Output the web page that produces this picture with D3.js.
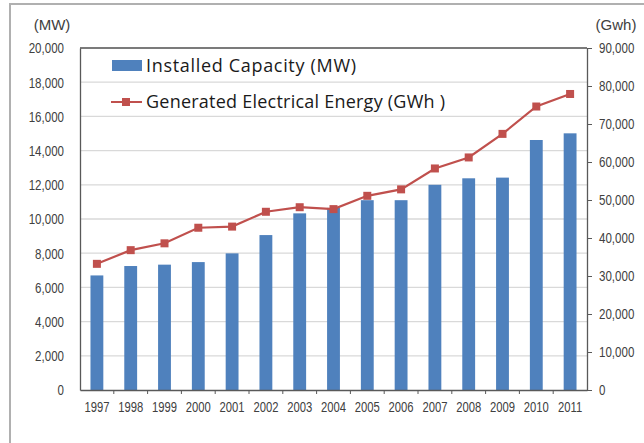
<!DOCTYPE html>
<html>
<head>
<meta charset="utf-8">
<script src="https://cdn.jsdelivr.net/npm/d3@7"></script>
<style>
  html, body { margin: 0; padding: 0; background: #fff; }
  svg { display: block; }
  .tick text { font-family: "Liberation Sans", Arial, sans-serif; font-size: 15px; fill: #404040; }
</style>
</head>
<body>
<svg width="644" height="443"></svg>
<script>
// Data
// ----
var years = ['1997', '1998', '1999', '2000', '2001', '2002', '2003', '2004',
             '2005', '2006', '2007', '2008', '2009', '2010', '2011'];
var capacity = [6700, 7250, 7330, 7480, 7990, 9060, 10330, 10650,
                11100, 11100, 12000, 12380, 12420, 14620, 15010];
var energy = [33200, 36800, 38600, 42700, 43000, 46900, 48100, 47600,
              51100, 52800, 58300, 61200, 67400, 74600, 77900];
var leftTicks = [0, 2000, 4000, 6000, 8000, 10000, 12000, 14000, 16000, 18000, 20000];
var rightTicks = [0, 10000, 20000, 30000, 40000, 50000, 60000, 70000, 80000, 90000];

var svg = d3.select('svg');
var m = {left: 80, right: 587, top: 48, bottom: 390};
var fmt = d3.format(',');

// squeeze axis labels to look like a narrow font
function narrow(sel, k) {
  sel.selectAll('.tick text').each(function () {
    var w = this.getComputedTextLength();
    d3.select(this).attr('textLength', w * k).attr('lengthAdjust', 'spacingAndGlyphs');
  });
}

// outer frame
svg.append('rect')
   .attr('x', 10).attr('y', 4)
   .attr('width', 660).attr('height', 460)
   .style('fill', 'none').style('stroke', '#b0b0b0').style('stroke-width', 2);

var x = d3.scaleBand().domain(years).range([m.left, m.right]).paddingInner(0.62).paddingOuter(0.31);
var xs = d3.scaleBand().domain(years).range([m.left, m.right]);
var yL = d3.scaleLinear().domain([0, 20000]).range([m.bottom, m.top]);
var yR = d3.scaleLinear().domain([0, 90000]).range([m.bottom, m.top]);

// gridlines
svg.append('g').selectAll('line').data(leftTicks.slice(1)).join('line')
   .attr('x1', m.left).attr('x2', m.right)
   .attr('y1', d => yL(d)).attr('y2', d => yL(d))
   .style('stroke', '#d9d9d9').style('stroke-width', 1.3);

// bars
svg.append('g').selectAll('rect').data(years).join('rect')
   .attr('x', d => x(d))
   .attr('width', x.bandwidth())
   .attr('y', (d, i) => yL(capacity[i]))
   .attr('height', (d, i) => m.bottom - yL(capacity[i]))
   .style('fill', '#4f81bd');

// left axis
var gl = svg.append('g').attr('transform', 'translate(' + m.left + ',0)')
   .call(d3.axisLeft(yL).tickValues(leftTicks).tickFormat(fmt).tickSize(0).tickPadding(16));
gl.select('.domain').style('stroke', '#595959').style('stroke-width', 1.3);
narrow(gl, 0.77);

// right axis
var gr = svg.append('g').attr('transform', 'translate(' + m.right + ',0)')
   .call(d3.axisRight(yR).tickValues(rightTicks).tickFormat(fmt).tickSizeInner(5).tickSizeOuter(0).tickPadding(7));
gr.select('.domain').style('stroke', '#595959').style('stroke-width', 1.3);
gr.selectAll('.tick line').style('stroke', '#595959');
narrow(gr, 0.77);

// top border of plot
svg.append('line')
   .attr('x1', m.left).attr('x2', m.right).attr('y1', m.top).attr('y2', m.top)
   .style('stroke', '#595959').style('stroke-width', 1.3);

// bottom axis
var gb = svg.append('g').attr('transform', 'translate(0,' + m.bottom + ')')
   .call(d3.axisBottom(xs).tickSize(0).tickPadding(11));
gb.select('.domain').style('stroke', '#595959').style('stroke-width', 1.3);
narrow(gb, 0.75);
gb.selectAll('.sep').data(years.slice(1)).join('line')
   .attr('class', 'sep')
   .attr('x1', d => xs(d)).attr('x2', d => xs(d))
   .attr('y1', 0).attr('y2', 4)
   .style('stroke', '#595959');

// energy line
var line = d3.line()
   .x((d, i) => xs(years[i]) + xs.bandwidth() / 2)
   .y(d => yR(d));
svg.append('path').datum(energy)
   .attr('d', line)
   .style('fill', 'none').style('stroke', '#c0504d').style('stroke-width', 2.2);
svg.append('g').selectAll('rect').data(energy).join('rect')
   .attr('x', (d, i) => xs(years[i]) + xs.bandwidth() / 2 - 4)
   .attr('y', d => yR(d) - 4)
   .attr('width', 8).attr('height', 8)
   .style('fill', '#c0504d');

// unit labels
svg.append('text').attr('x', 52).attr('y', 30).attr('text-anchor', 'middle')
   .text('(MW)')
   .style('font-family', '"Liberation Sans", Arial, sans-serif').style('font-size', '15px').style('fill', '#404040');
svg.append('text').attr('x', 616).attr('y', 30).attr('text-anchor', 'middle')
   .text('(Gwh)')
   .style('font-family', '"Liberation Sans", Arial, sans-serif').style('font-size', '15px').style('fill', '#404040');

// legend
var lg = svg.append('g');
lg.append('rect').attr('x', 112).attr('y', 60).attr('width', 30).attr('height', 11)
   .style('fill', '#4f81bd');
lg.append('text').attr('x', 146).attr('y', 72)
   .attr('textLength', 210).attr('lengthAdjust', 'spacing')
   .text('Installed Capacity (MW)')
   .style('font-family', '"Open Sans", sans-serif').style('font-size', '18px').style('fill', '#1a1a1a');
lg.append('line').attr('x1', 111).attr('x2', 142).attr('y1', 102).attr('y2', 102)
   .style('stroke', '#c0504d').style('stroke-width', 2);
lg.append('rect').attr('x', 122).attr('y', 98).attr('width', 8).attr('height', 8)
   .style('fill', '#c0504d');
lg.append('text').attr('x', 146).attr('y', 108)
   .attr('textLength', 299).attr('lengthAdjust', 'spacing')
   .text('Generated Electrical Energy (GWh )')
   .style('font-family', '"Open Sans", sans-serif').style('font-size', '18px').style('fill', '#1a1a1a');
</script>
</body>
</html>
